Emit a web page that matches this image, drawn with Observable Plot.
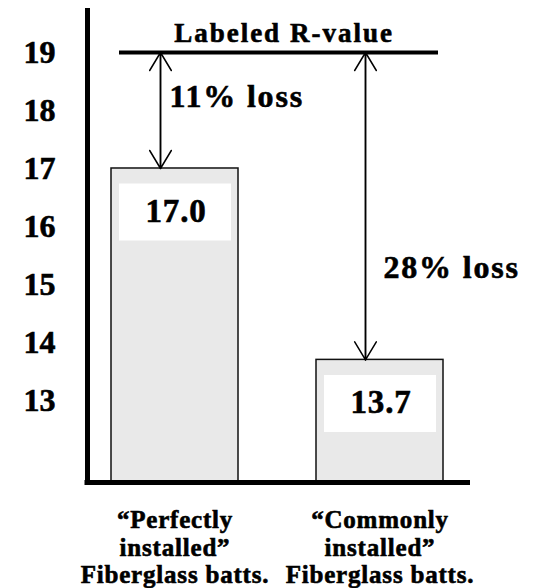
<!DOCTYPE html>
<html><head><meta charset="utf-8">
<script src="https://cdn.jsdelivr.net/npm/d3@7"></script>
<script src="https://cdn.jsdelivr.net/npm/@observablehq/plot@0.6"></script>
<style>
body{margin:0;background:#fff}
svg text{font-family:"Liberation Serif",serif;font-weight:bold;stroke:#000;stroke-width:0.6px}
text[aria-label="title"]{letter-spacing:2px}
text[aria-label="loss"]{letter-spacing:1.8px}
text[aria-label="value-label"]{letter-spacing:0.8px}
text[aria-label="category"]{letter-spacing:0.8px}
</style>
</head><body><div id="chart"></div>
<script>
const categories = ["Perfectly", "Commonly"];
const rValues = [17.0, 13.7];
const valueLabels = ["17.0", "13.7"];
const lossLabels = ["11% loss", "28% loss"];
const categoryLabels = ["“Perfectly\ninstalled”\nFiberglass batts.", "“Commonly\ninstalled”\nFiberglass batts."];
const labeledRValue = 19;
const labeledText = "Labeled R-value";
const yTicks = [13, 14, 15, 16, 17, 18, 19];
const yDomain = [11.586, 19.724];

const bars = categories.map((c, i) => ({cat: c, value: rValues[i], label: valueLabels[i], loss: lossLabels[i], name: categoryLabels[i]}));
const serif = "Liberation Serif";

const chart = Plot.plot({
  width: 538,
  height: 588,
  marginLeft: 87,
  marginRight: 68,
  marginTop: 10,
  marginBottom: 106,
  style: {fontFamily: serif, fontWeight: "bold", fontSize: "32px", color: "black", background: "white"},
  x: {domain: categories, range: [33, 521], padding: 0.38, axis: null},
  y: {domain: yDomain, ticks: yTicks, tickSize: 0, tickPadding: 32, label: null, tickFormat: d => String(d)},
  marks: [
    Plot.barY(bars, {x: "cat", y1: d => yDomain[0], y2: "value", fill: "#e9e9e9", stroke: "#111", strokeWidth: 1.5}),
    Plot.tickY(bars, {x: "cat", y: "value", stroke: "white", strokeWidth: 57, dy: 43.5, insetLeft: 8, insetRight: 7}),
    Plot.text(bars, {x: "cat", y: "value", text: "label", dy: 43, dx: 1, fontSize: 33, fontFamily: serif, fontWeight: "bold", lineAnchor: "middle", ariaLabel: () => "value-label"}),
    Plot.ruleY([labeledRValue], {y: d => d, x1: d => categories[0], x2: d => categories[1], strokeWidth: 4, insetLeft: 8, insetRight: 5}),
    Plot.arrow(bars, {x: "cat", y1: d => labeledRValue, y2: "value", dx: -14.5, strokeWidth: 1.5, headLength: 21, headAngle: 62}),
    Plot.arrow(bars, {x: "cat", y1: "value", y2: d => labeledRValue, dx: -14.5, strokeWidth: 1.5, headLength: 21, headAngle: 62}),
    Plot.text([bars[0]], {x: "cat", y: d => (labeledRValue + d.value) / 2, text: "loss", textAnchor: "start", dx: -5.5, dy: -14, fontSize: 32, fontFamily: serif, fontWeight: "bold", lineAnchor: "middle", ariaLabel: () => "loss"}),
    Plot.text([bars[1]], {x: "cat", y: d => (labeledRValue + d.value) / 2, text: "loss", textAnchor: "start", dx: 3.5, dy: 62, fontSize: 32, fontFamily: serif, fontWeight: "bold", lineAnchor: "middle", ariaLabel: () => "loss"}),
    Plot.text([labeledText], {y: d => labeledRValue, text: d => d, lineAnchor: "bottom", dy: -10, dx: 5, fontSize: 27, fontFamily: serif, fontWeight: "bold", ariaLabel: () => "title"}),
    Plot.text(bars, {x: "cat", text: "name", frameAnchor: "bottom", lineAnchor: "top", dy: 26, fontSize: 25, fontFamily: serif, fontWeight: "bold", lineHeight: 1.1, ariaLabel: () => "category"}),
    Plot.frame({anchor: "left", strokeWidth: 5}),
    Plot.ruleY([yDomain[0]], {strokeWidth: 5, insetLeft: -2.5})
  ]
});
document.getElementById("chart").appendChild(chart);
</script>
</body></html>
